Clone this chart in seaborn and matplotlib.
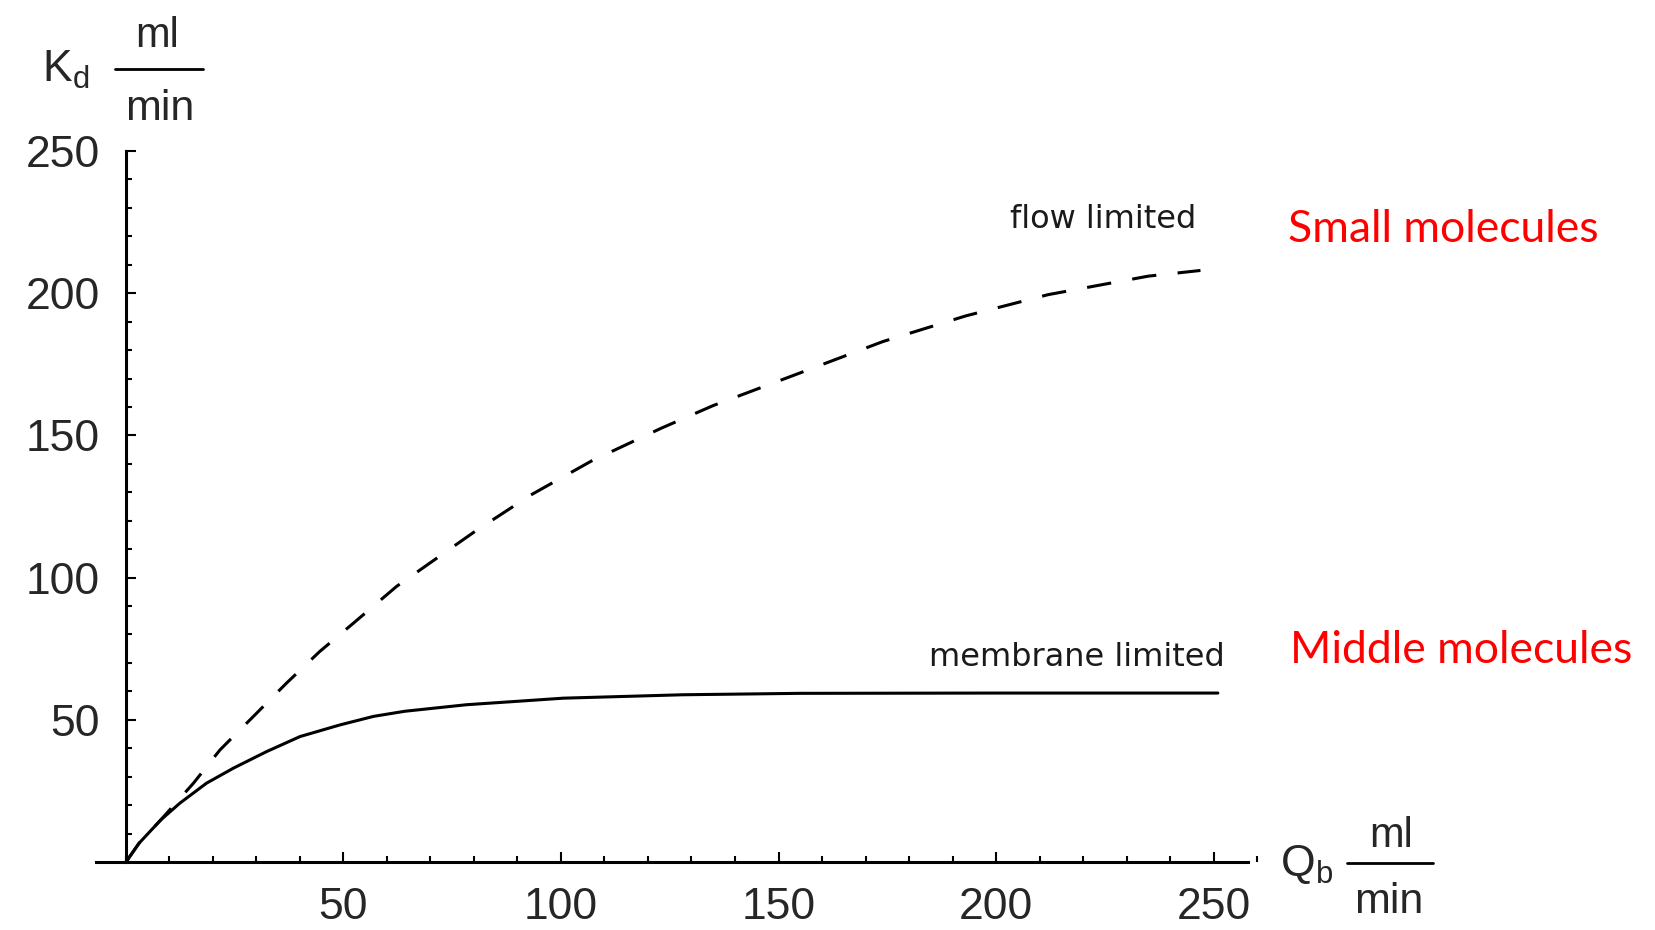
import matplotlib
matplotlib.use("Agg")
import numpy as np
import pandas as pd
import matplotlib.pyplot as plt
import seaborn as sns
from matplotlib.lines import Line2D
from matplotlib.ticker import MultipleLocator

# values
flow_qb = [0, 3, 8, 15.5, 21.6, 29.3, 36.9, 44.6, 52.3, 62.2, 80, 93, 107, 123, 135, 155, 174, 193, 212, 235, 247]
flow_kd = [0, 6.6, 14.8, 27.7, 39.4, 51.2, 62.9, 74.1, 84, 96.9, 116, 129, 141, 152.5, 160.5, 172, 183, 192, 199.5, 206, 208]
membrane_qb = [0, 3, 8, 12.4, 18.5, 24.7, 32.3, 40, 49.2, 56.9, 64.1, 78.3, 89, 100.5, 128, 155, 200, 251]
membrane_kd = [0, 6.6, 14.8, 20.7, 27.7, 33, 38.8, 44.1, 48.2, 51.2, 53, 55.3, 56.4, 57.6, 58.8, 59.3, 59.4, 59.4]
major_ticks = [50, 100, 150, 200, 250]
curve_labels = ["flow limited", "membrane limited"]
group_labels = ["Small molecules", "Middle molecules"]

W, H = 1656, 930


def fx(px):
    return px / W


def fy(py):
    return 1 - py / H


sns.set_style("white")
plt.rcParams["font.family"] = ["Liberation Sans", "DejaVu Sans"]
plt.rcParams["mathtext.fontset"] = "custom"
plt.rcParams["mathtext.rm"] = "Liberation Sans"
plt.rcParams["mathtext.it"] = "Liberation Sans"

fig = plt.figure(figsize=(16.56, 9.3), dpi=100)
ax = fig.add_axes([0.05507, 0.05785, 0.70399, 0.79505])

flow_df = pd.DataFrame({"Qb": flow_qb, "Kd": flow_kd})
memb_df = pd.DataFrame({"Qb": membrane_qb, "Kd": membrane_kd})
sns.lineplot(data=flow_df, x="Qb", y="Kd", ax=ax, color="black", lw=2.2, estimator=None)
ax.lines[-1].set_dashes([8, 7])
sns.lineplot(data=memb_df, x="Qb", y="Kd", ax=ax, color="black", lw=2.2, estimator=None)

ax.set_xlim(-8, 260)
ax.set_ylim(-5, 255)
ax.set_xlabel("")
ax.set_ylabel("")

for s in ["top", "right"]:
    ax.spines[s].set_visible(False)
ax.spines["left"].set_position(("data", 0))
ax.spines["bottom"].set_position(("data", 0))
ax.spines["left"].set_bounds(0, 250)
ax.spines["bottom"].set_bounds(-7, 258)
for s in ["left", "bottom"]:
    ax.spines[s].set_linewidth(2.2)
    ax.spines[s].set_color("black")

ax.set_xticks(major_ticks)
ax.set_yticks(major_ticks)
ax.xaxis.set_minor_locator(MultipleLocator(10))
ax.yaxis.set_minor_locator(MultipleLocator(10))
ax.tick_params(which="both", direction="in", bottom=True, left=True, color="black", width=1.5)
ax.tick_params(which="major", length=7, labelsize=32)
ax.tick_params(which="minor", length=4)
ax.tick_params(axis="x", pad=18)
ax.tick_params(axis="y", pad=19)

# curve labels
ax.text(246, 226, curve_labels[0], ha="right", va="center", fontsize=23, family="DejaVu Sans", color="#1a1a1a")
ax.text(252.5, 72, curve_labels[1], ha="right", va="center", fontsize=23, family="DejaVu Sans", color="#1a1a1a")

# axis labels built as fractions
fig.text(fx(42), fy(82), r"K$_{\mathrm{d}}$", fontsize=32, va="baseline", ha="left")
fig.text(fx(157), fy(47), "ml", fontsize=30, va="baseline", ha="center")
fig.text(fx(160), fy(120), "min", fontsize=31, va="baseline", ha="center")
fig.add_artist(Line2D([fx(115), fx(203)], [fy(69), fy(69)], color="black", lw=2))

fig.text(fx(1280), fy(876), r"Q$_{\mathrm{b}}$", fontsize=32, va="baseline", ha="left")
fig.text(fx(1391), fy(847), "ml", fontsize=30, va="baseline", ha="center")
fig.text(fx(1389), fy(913), "min", fontsize=31, va="baseline", ha="center")
fig.add_artist(Line2D([fx(1347), fx(1433)], [fy(863), fy(863)], color="black", lw=2))

fig.text(fx(1288), fy(242), group_labels[0], fontsize=32, family="Lato", color="red", va="baseline", ha="left")
fig.text(fx(1290), fy(663), group_labels[1], fontsize=32, family="Lato", color="red", va="baseline", ha="left")

fig.savefig("out.png", dpi=100)
